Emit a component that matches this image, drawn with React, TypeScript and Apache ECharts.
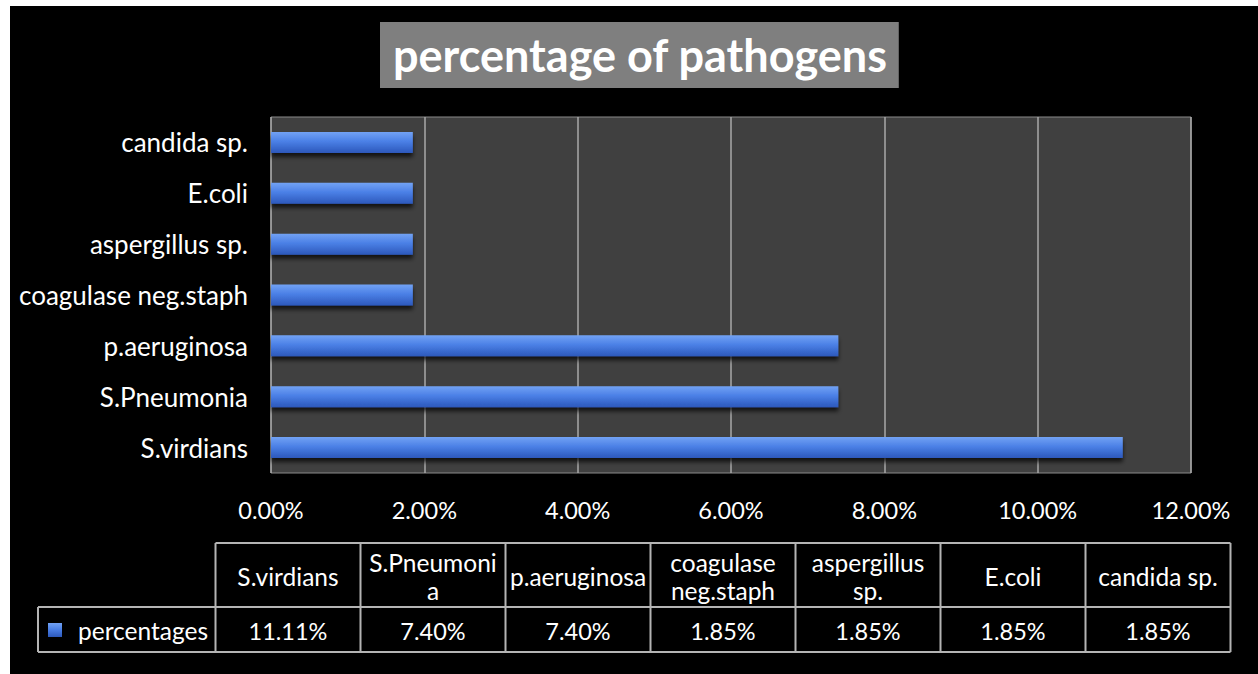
import React, { useEffect, useRef } from "react";
import * as echarts from "echarts";

// ---- data ----
const categories = [
  "S.virdians",
  "S.Pneumonia",
  "p.aeruginosa",
  "coagulase neg.staph",
  "aspergillus sp.",
  "E.coli",
  "candida sp.",
];
const percentages = [11.11, 7.4, 7.4, 1.85, 1.85, 1.85, 1.85];
const tableHeaderLabels = [
  "S.virdians",
  "S.Pneumoni\na",
  "p.aeruginosa",
  "coagulase\nneg.staph",
  "aspergillus\nsp.",
  "E.coli",
  "candida sp.",
];
const seriesName = "percentages";
const chartTitle = "percentage of pathogens";
const xMin = 0;
const xMax = 12;
const xStep = 2;

const FONT = "Lato, 'Open Sans', sans-serif";

const barGradient = () =>
  new echarts.graphic.LinearGradient(0, 0, 0, 1, [
    { offset: 0, color: "#72a2f4" },
    { offset: 0.45, color: "#4b80e6" },
    { offset: 1, color: "#2c58bb" },
  ]);

export default function App() {
  const ref = useRef<HTMLDivElement>(null);

  useEffect(() => {
    if (!ref.current) return;
    const chart = echarts.init(ref.current, undefined, { renderer: "svg" });

    // table layout
    const tLeft = 215.5;
    const colW = 145;
    const headTop = 543;
    const rowSep = 607;
    const bottom = 652;
    const legLeft = 38;
    const lineColor = "#b4b4b4";
    const n = categories.length;
    const tRight = tLeft + colW * n;

    const tableEls: any[] = [];
    const ln = (x1: number, y1: number, x2: number, y2: number) => ({
      type: "line",
      shape: { x1, y1, x2, y2 },
      style: { stroke: lineColor, lineWidth: 2 },
    });
    tableEls.push(ln(tLeft, headTop, tRight, headTop));
    tableEls.push(ln(legLeft, rowSep, tRight, rowSep));
    tableEls.push(ln(legLeft, bottom, tRight, bottom));
    tableEls.push(ln(legLeft, rowSep, legLeft, bottom));
    for (let i = 0; i <= n; i++) {
      const x = tLeft + colW * i;
      tableEls.push(ln(x, headTop, x, bottom));
    }
    categories.forEach((c, i) => {
      const cx = tLeft + colW * (i + 0.5);
      tableEls.push({
        type: "text",
        style: {
          text: tableHeaderLabels[i],
          x: cx,
          y: (headTop + rowSep) / 2 + 1,
          fill: "#ffffff",
          fontSize: 24.5,
          fontFamily: FONT,
          lineHeight: 28,
          align: "center",
          verticalAlign: "middle",
          textAlign: "center",
          textVerticalAlign: "middle",
        },
      });
      tableEls.push({
        type: "text",
        style: {
          text: percentages[i].toFixed(2) + "%",
          x: cx,
          y: (rowSep + bottom) / 2 + 1,
          fill: "#ffffff",
          fontSize: 23.5,
          fontFamily: FONT,
          align: "center",
          verticalAlign: "middle",
          textAlign: "center",
          textVerticalAlign: "middle",
        },
      });
    });
    tableEls.push({ type: "rect", shape: { x: 48, y: 623, width: 14, height: 14 }, style: { fill: barGradient() } });
    tableEls.push({
      type: "text",
      style: {
        text: seriesName,
        x: 78,
        y: (rowSep + bottom) / 2 + 1,
        fill: "#ffffff",
        fontSize: 24.5,
        fontFamily: FONT,
        align: "left",
        verticalAlign: "middle",
        textAlign: "left",
        textVerticalAlign: "middle",
      },
    });

    chart.setOption({
      animation: false,
      backgroundColor: "#ffffff",
      title: {
        text: chartTitle,
        left: 380,
        top: 22,
        backgroundColor: "#7f7f7f",
        padding: [9, 11, 9, 13],
        textStyle: { color: "#ffffff", fontSize: 45, fontWeight: "bold", fontFamily: FONT, lineHeight: 48 },
      },
      graphic: [
        {
          type: "rect",
          z: -10,
          silent: true,
          shape: { x: 10, y: 6, width: 1248, height: 668 },
          style: { fill: "#000000" },
        },
        ...tableEls,
      ],
      grid: {
        left: 271,
        right: 67,
        top: 117,
        bottom: 201,
        show: true,
        backgroundColor: "#404040",
        borderColor: "#8a8a8a",
        borderWidth: 1,
        containLabel: false,
      },
      xAxis: {
        type: "value",
        min: xMin,
        max: xMax,
        interval: xStep,
        axisLine: { show: false },
        axisTick: { show: false },
        splitLine: { show: true, lineStyle: { color: "#a8a8a8", width: 1.5 } },
        axisLabel: {
          color: "#ffffff",
          fontSize: 23.5,
          fontFamily: FONT,
          margin: 25,
          formatter: (v: number) => v.toFixed(2) + "%",
        },
      },
      yAxis: {
        type: "category",
        data: categories,
        axisLine: { show: false },
        axisTick: { show: false },
        splitLine: { show: false },
        axisLabel: { color: "#ffffff", fontSize: 26, fontFamily: FONT, margin: 23 },
      },
      series: [
        {
          name: seriesName,
          type: "bar",
          data: percentages,
          barWidth: 21,
          itemStyle: {
            color: barGradient(),
            shadowColor: "rgba(0,0,0,0.7)",
            shadowBlur: 4,
            shadowOffsetY: 4,
          },
        },
      ],
    });

    return () => chart.dispose();
  }, []);

  return (
    <div
      ref={ref}
      style={{ position: "absolute", left: 0, top: 0, width: 1258, height: 674 }}
    />
  );
}
